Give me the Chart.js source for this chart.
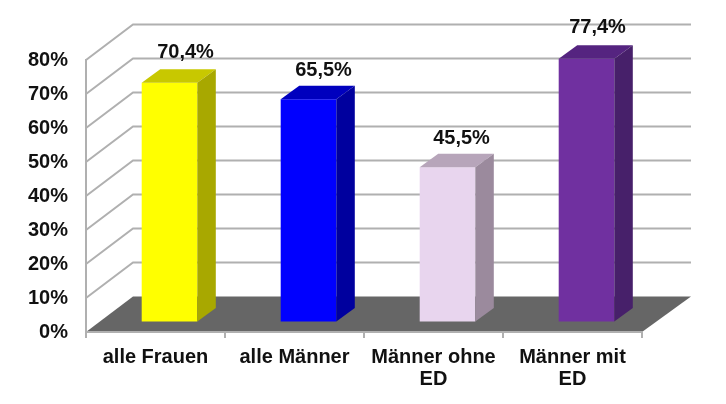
<!DOCTYPE html>
<html>
<head>
<meta charset="utf-8">
<title>Chart</title>
<script src="https://cdn.jsdelivr.net/npm/chart.js@4"></script>
<style>
    html, body { margin: 0; padding: 0; background: #fff; }
    canvas { display: block; }
</style>
</head>
<body>
<canvas id="chart" width="726" height="404"></canvas>
<script>
const categories = ['alle Frauen', 'alle Männer', ['Männer ohne', 'ED'], ['Männer mit', 'ED']];
const values = [70.4, 65.5, 45.5, 77.4];
const valueLabels = ['70,4%', '65,5%', '45,5%', '77,4%'];

const frontColors = ['#ffff00', '#0000ff', '#e8d5ee', '#7030a0'];
const topColors = ['#c8c800', '#0000be', '#b7a5ba', '#552480'];
const sideColors = ['#a8a800', '#00009e', '#9b8a9d', '#47206a'];

const gridColor = '#b0b0b0';
const floorColor = '#666666';
const fontName = '"Liberation Sans", Arial, sans-serif';

// how far the back wall sits behind the axis plane
const wallDx = 47;
const wallDy = -35.5;
// bars stand a bit inside the floor, and have their own depth
const barDx = 14;
const barDy = -10;
const depthDx = 18.5;
const depthDy = -13.5;
// value labels were placed by hand in the original, so nudge each one
const labelDx = [16, 15, 14, 11];
const labelDy = [-30, -29, -29, -31];

function poly(ctx, points, color) {
    ctx.fillStyle = color;
    ctx.beginPath();
    points.forEach((p, i) => {
        if (i === 0) ctx.moveTo(p[0], p[1]);
        else ctx.lineTo(p[0], p[1]);
    });
    ctx.closePath();
    ctx.fill();
}

const box3d = {
    id: 'box3d',
    beforeDraw(chart) {
        const ctx = chart.ctx;
        const area = chart.chartArea;
        const yScale = chart.scales.y;

        ctx.save();
        ctx.strokeStyle = gridColor;
        ctx.lineWidth = 2;
        yScale.ticks.forEach((tick) => {
            if (tick.value === 0) return;
            const y = yScale.getPixelForValue(tick.value);
            ctx.beginPath();
            ctx.moveTo(area.left, y);
            ctx.lineTo(area.left + wallDx, y + wallDy);
            ctx.lineTo(area.right + wallDx + 2, y + wallDy);
            ctx.stroke();
        });
        poly(ctx, [
            [area.left, area.bottom],
            [area.left + wallDx, area.bottom + wallDy],
            [area.right + wallDx + 2, area.bottom + wallDy],
            [area.right, area.bottom]
        ], floorColor);
        ctx.restore();
    },
    beforeDatasetsDraw(chart) {
        // the native bars are the front faces, moved onto the floor
        chart.ctx.save();
        chart.ctx.translate(barDx, barDy);
    },
    afterDatasetsDraw(chart) {
        const ctx = chart.ctx;
        ctx.restore();

        chart.getDatasetMeta(0).data.forEach((bar, i) => {
            const left = bar.x - bar.width / 2 + barDx;
            const right = bar.x + bar.width / 2 + barDx;
            const top = bar.y + barDy;
            const bottom = bar.base + barDy;

            poly(ctx, [
                [left, top],
                [left + depthDx, top + depthDy],
                [right + depthDx, top + depthDy],
                [right, top]
            ], topColors[i]);
            poly(ctx, [
                [right, top],
                [right + depthDx, top + depthDy],
                [right + depthDx, bottom + depthDy],
                [right, bottom]
            ], sideColors[i]);

            ctx.save();
            ctx.fillStyle = '#111';
            ctx.font = 'bold 20px ' + fontName;
            ctx.textAlign = 'center';
            ctx.textBaseline = 'middle';
            ctx.fillText(valueLabels[i], bar.x + barDx + labelDx[i], top + labelDy[i]);
            ctx.restore();
        });
    }
};

new Chart(document.getElementById('chart'), {
    type: 'bar',
    data: {
        labels: categories,
        datasets: [{
            data: values,
            backgroundColor: frontColors,
            borderWidth: 0,
            barPercentage: 0.4,
            categoryPercentage: 1,
            clip: false
        }]
    },
    options: {
        responsive: false,
        animation: false,
        devicePixelRatio: 1,
        layout: { padding: { top: 60, right: 84, left: 0, bottom: 0 } },
        plugins: {
            legend: { display: false },
            tooltip: { enabled: false }
        },
        scales: {
            x: {
                afterFit(scale) { scale.height = 72; },
                grid: { drawOnChartArea: false, color: gridColor, lineWidth: 2, tickLength: 6 },
                border: { color: gridColor, width: 2 },
                ticks: {
                    color: '#111',
                    font: { family: fontName, size: 20, weight: 'bold', lineHeight: 1.1 },
                    maxRotation: 0,
                    autoSkip: false,
                    padding: 8
                }
            },
            y: {
                min: 0,
                max: 80,
                afterFit(scale) { scale.width = 86; },
                grid: { drawOnChartArea: false, drawTicks: false },
                border: { color: gridColor, width: 2 },
                ticks: {
                    stepSize: 10,
                    color: '#111',
                    font: { family: fontName, size: 20, weight: 'bold' },
                    padding: 18,
                    callback: (value) => value + '%'
                }
            }
        }
    },
    plugins: [box3d]
});
</script>
</body>
</html>
